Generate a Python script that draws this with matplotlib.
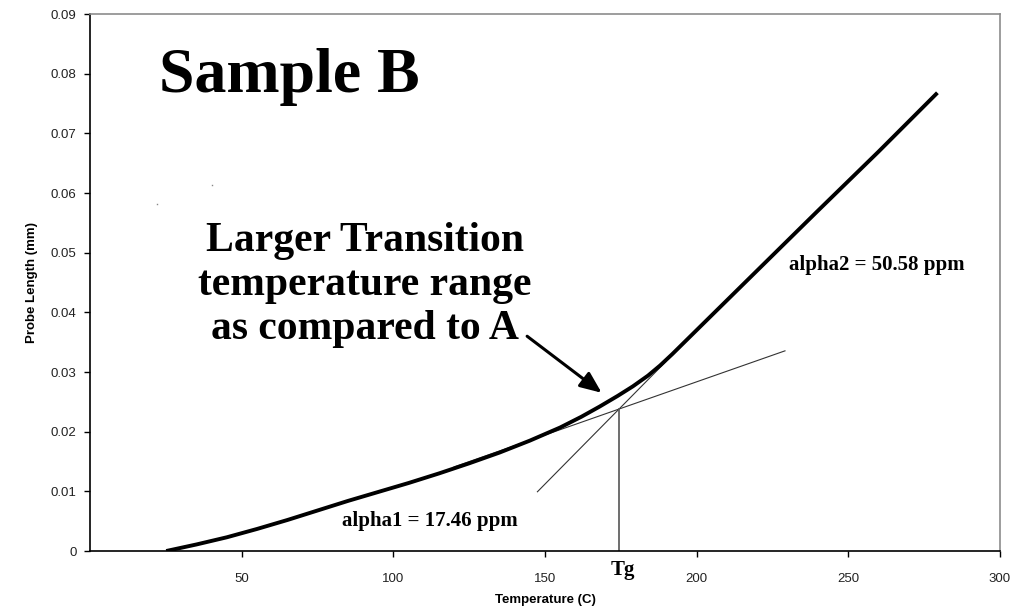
import matplotlib
matplotlib.use("Agg")
import matplotlib.pyplot as plt

# ---- data ----
temperature = [25, 35, 45, 55, 65, 75, 85, 95, 105, 115, 125, 135, 145, 155, 162,
               168, 174, 179, 184, 188, 192, 196, 201, 210, 220, 240, 260, 279.5]
probe_length = [0.0, 0.0011, 0.0023, 0.0037, 0.0052, 0.0068, 0.0084, 0.0099, 0.0114,
                0.0130, 0.0147, 0.0165, 0.0185, 0.0207, 0.0225, 0.0242, 0.0260, 0.0276,
                0.0294, 0.0311, 0.0330, 0.0350, 0.0375, 0.0420, 0.0470, 0.0570,
                0.0669, 0.0768]

alpha1_x = [120, 229.2]
alpha1_y = [0.0141, 0.03355]
alpha2_x = [147.5, 190]
alpha2_y = [0.00993, 0.0318]
tg_value = 174.4
tg_length = 0.0238

stray_x = [21.9, 40.1]
stray_y = [0.0581, 0.0613]

x_ticks = [50, 100, 150, 200, 250, 300]
y_ticks = [0, 0.01, 0.02, 0.03, 0.04, 0.05, 0.06, 0.07, 0.08, 0.09]
y_tick_labels = ["0", "0.01", "0.02", "0.03", "0.04", "0.05", "0.06", "0.07", "0.08", "0.09"]

fig = plt.figure(figsize=(10.13, 6.10), dpi=100)
ax = fig.add_axes([0.0893, 0.0967, 0.8974, 0.8803])

ax.plot(temperature, probe_length, color="black", lw=2.8, solid_capstyle="butt",
        solid_joinstyle="round", zorder=3)
ax.plot(alpha1_x, alpha1_y, color="#333333", lw=0.8, zorder=2)
ax.plot(alpha2_x, alpha2_y, color="#333333", lw=0.8, zorder=2)
ax.plot([tg_value, tg_value], [0, tg_length], color="#555555", lw=1.2, zorder=2)
ax.plot(stray_x, stray_y, ls="none", marker="s", ms=1.0, color="#888888", mec="none")

ax.set_xlim(0, 300)
ax.set_ylim(0, 0.09)
ax.set_xticks(x_ticks)
ax.set_xticklabels([str(t) for t in x_ticks])
ax.set_yticks(y_ticks)
ax.set_yticklabels(y_tick_labels)

for lbl in ax.get_xticklabels() + ax.get_yticklabels():
    lbl.set_fontfamily("Liberation Sans")
    lbl.set_fontsize(9.5)
    lbl.set_color("#222222")
ax.tick_params(axis="both", direction="out", length=4, width=1, color="black")
ax.tick_params(axis="x", pad=12)
ax.tick_params(axis="y", pad=6)

for side in ["left", "bottom"]:
    ax.spines[side].set_color("black")
    ax.spines[side].set_linewidth(1.2)
for side in ["top", "right"]:
    ax.spines[side].set_color("#8c8c8c")
    ax.spines[side].set_linewidth(1.2)

ax.set_xlabel("Temperature (C)", fontfamily="Liberation Sans", fontweight="bold",
              fontsize=9.5, labelpad=6)
ax.set_ylabel("Probe Length (mm)", fontfamily="Liberation Sans", fontweight="bold",
              fontsize=9.5, labelpad=9)

serif = "Liberation Serif"
ax.text(65.5, 0.0795, "Sample B", fontfamily=serif, fontweight="bold", fontsize=46,
        ha="center", va="center")
ax.text(90.6, 0.0446, "Larger Transition\ntemperature range\nas compared to A",
        fontfamily=serif, fontweight="bold", fontsize=30, ha="center", va="center",
        linespacing=1.2)
ax.text(112.0, 0.00495, "alpha1 = 17.46 ppm", fontfamily=serif, fontweight="bold",
        fontsize=15, ha="center", va="center")
ax.text(259.5, 0.0479, "alpha2 = 50.58 ppm", fontfamily=serif, fontweight="bold",
        fontsize=15, ha="center", va="center")
ax.text(175.6, -0.0032, "Tg", fontfamily=serif, fontweight="bold", fontsize=15,
        ha="center", va="center", clip_on=False)

ax.annotate("", xy=(168.7, 0.02652), xytext=(144.1, 0.0360),
            arrowprops=dict(arrowstyle="-|>,head_length=1.3,head_width=0.55",
                            color="black", lw=2.2, shrinkA=0, shrinkB=0))

fig.savefig("out.png", dpi=100)
